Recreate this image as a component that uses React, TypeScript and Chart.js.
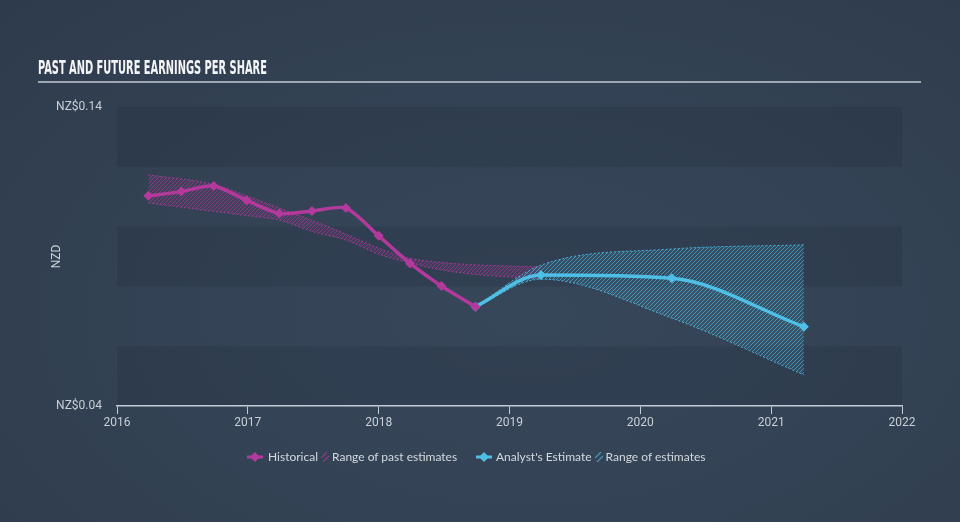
import React, { useEffect, useRef } from "react";
import { Chart, registerables } from "chart.js";

Chart.register(...registerables);

// ---- data ----
const histYears = [2016.24, 2016.49, 2016.74, 2016.99, 2017.24, 2017.49, 2017.75, 2018.0, 2018.24, 2018.48, 2018.74];
const histEPS = [0.1103, 0.1117, 0.1136, 0.1088, 0.1044, 0.1052, 0.1062, 0.0969, 0.0877, 0.0801, 0.0732];

const pastRangeYears = [2016.24, 2016.74, 2016.99, 2017.24, 2017.49, 2017.75, 2018.0, 2018.24, 2018.48, 2018.74, 2019.24];
const pastHigh = [0.1173, 0.1141, 0.1103, 0.1062, 0.1021, 0.0975, 0.0928, 0.0894, 0.088, 0.0872, 0.0865];
const pastLow = [0.1079, 0.1051, 0.1037, 0.1022, 0.0984, 0.0955, 0.0908, 0.0878, 0.0855, 0.084, 0.0826];

const estYears = [2018.74, 2019.24, 2020.24, 2021.25];
const estEPS = [0.0732, 0.0838, 0.0827, 0.0665];
const estHigh = [0.0732, 0.0871, 0.0925, 0.0939];
const estLow = [0.0732, 0.0824, 0.0694, 0.0504];

const xTicks = [2016, 2017, 2018, 2019, 2020, 2021, 2022];
const yTicks = [0.04, 0.14];
const bandEdges = [0.04, 0.06, 0.08, 0.1, 0.12, 0.14];

const TITLE = "PAST AND FUTURE EARNINGS PER SHARE";
const Y_TITLE = "NZD";
const LEGEND = ["Historical", "Range of past estimates", "Analyst's Estimate", "Range of estimates"];

const MAGENTA = "#b3399c";
const BLUE = "#4fbfe6";
const TEXT = "#c9cfd5";
const AXIS = "#c3ccd6";

const pts = (xs: number[], ys: number[]) => xs.map((x, i) => ({ x, y: ys[i] }));

function makeHatch(ctx: CanvasRenderingContext2D, rgb: string) {
  const c = document.createElement("canvas");
  c.width = 4;
  c.height = 4;
  const g = c.getContext("2d")!;
  g.fillStyle = `rgba(${rgb},0.12)`;
  g.fillRect(0, 0, 4, 4);
  g.strokeStyle = `rgba(${rgb},0.6)`;
  g.lineWidth = 1;
  g.beginPath();
  g.moveTo(0, 4);
  g.lineTo(4, 0);
  g.moveTo(-1, 1);
  g.lineTo(1, -1);
  g.moveTo(3, 5);
  g.lineTo(5, 3);
  g.stroke();
  return ctx.createPattern(c, "repeat")!;
}

const bandsPlugin = {
  id: "bands",
  beforeDraw(chart: any) {
    const { ctx, chartArea, scales } = chart;
    const y = scales.y;
    ctx.save();
    ctx.fillStyle = "rgba(24,34,48,0.16)";
    for (let i = 0; i < bandEdges.length - 1; i += 2) {
      const top = y.getPixelForValue(bandEdges[i + 1]);
      const bot = y.getPixelForValue(bandEdges[i]);
      ctx.fillRect(chartArea.left, top, chartArea.right - chartArea.left, bot - top);
    }
    ctx.restore();
  },
};

function DiamondIcon({ color }: { color: string }) {
  return (
    <svg width="16" height="12" style={{ display: "block" }}>
      <line x1="0" y1="6" x2="16" y2="6" stroke={color} strokeWidth="3" />
      <polygon points="8,1 13,6 8,11 3,6" fill={color} />
    </svg>
  );
}

function HatchIcon({ color }: { color: string }) {
  return (
    <svg width="8" height="10" style={{ display: "block" }}>
      <line x1="0" y1="6" x2="6" y2="0" stroke={color} strokeWidth="1.2" opacity="0.7" />
      <line x1="2" y1="10" x2="8" y2="4" stroke={color} strokeWidth="1.2" opacity="0.7" />
    </svg>
  );
}

export default function App() {
  const canvasRef = useRef<HTMLCanvasElement>(null);
  const titleRef = useRef<HTMLSpanElement>(null);

  useEffect(() => {
    const t = titleRef.current;
    if (t) {
      const w = t.offsetWidth;
      if (w > 0) t.style.transform = `scaleX(${229 / w})`;
    }
    const canvas = canvasRef.current!;
    const ctx = canvas.getContext("2d")!;
    const magHatch = makeHatch(ctx, "179,57,156");
    const blueHatch = makeHatch(ctx, "79,191,230");

    const chart = new Chart(ctx, {
      type: "line",
      data: {
        datasets: [
          {
            label: LEGEND[0],
            data: pts(histYears, histEPS),
            borderColor: MAGENTA,
            backgroundColor: MAGENTA,
            borderWidth: 3.5,
            pointStyle: "rectRot",
            pointRadius: 5,
            pointBorderWidth: 0,
            tension: 0.25,
            fill: false,
            order: 0,
          },
          {
            label: LEGEND[2],
            data: pts(estYears, estEPS),
            borderColor: BLUE,
            backgroundColor: BLUE,
            borderWidth: 3.5,
            pointStyle: "rectRot",
            pointRadius: 5,
            pointBorderWidth: 0,
            cubicInterpolationMode: "monotone",
            fill: false,
            order: 0,
          },
          {
            label: "pastHigh",
            data: pts(pastRangeYears, pastHigh),
            borderColor: "rgba(179,57,156,0.85)",
            borderWidth: 1,
            borderDash: [2, 2],
            pointRadius: 0,
            cubicInterpolationMode: "monotone",
            fill: false,
            order: 2,
          },
          {
            label: LEGEND[1],
            data: pts(pastRangeYears, pastLow),
            borderColor: "rgba(179,57,156,0.85)",
            backgroundColor: magHatch,
            borderWidth: 1,
            borderDash: [2, 2],
            pointRadius: 0,
            cubicInterpolationMode: "monotone",
            fill: 2,
            order: 2,
          },
          {
            label: "estHigh",
            data: pts(estYears, estHigh),
            borderColor: "rgba(79,191,230,0.85)",
            borderWidth: 1,
            borderDash: [2, 2],
            pointRadius: 0,
            cubicInterpolationMode: "monotone",
            fill: false,
            order: 1,
          },
          {
            label: LEGEND[3],
            data: pts(estYears, estLow),
            borderColor: "rgba(79,191,230,0.85)",
            backgroundColor: blueHatch,
            borderWidth: 1,
            borderDash: [2, 2],
            pointRadius: 0,
            cubicInterpolationMode: "monotone",
            fill: 4,
            order: 1,
          },
        ],
      },
      options: {
        responsive: false,
        animation: false,
        devicePixelRatio: 1,
        layout: { padding: { top: 107, right: 58, left: 0, bottom: 0 } },
        plugins: { legend: { display: false }, title: { display: false }, tooltip: { enabled: false } },
        scales: {
          x: {
            type: "linear",
            min: 2016,
            max: 2022,
            afterBuildTicks: (s: any) => {
              s.ticks = xTicks.map((v) => ({ value: v }));
            },
            afterFit: (s: any) => {
              s.height = 116;
            },
            grid: { drawOnChartArea: false, drawTicks: true, tickLength: 8, color: AXIS, lineWidth: 1 },
            border: { display: true, color: AXIS, width: 1.5 },
            ticks: {
              padding: 2,
              color: TEXT,
              maxRotation: 0,
              font: { family: "Roboto, 'DejaVu Sans', sans-serif", size: 12 },
              callback: (v: any) => String(v),
            },
          },
          y: {
            type: "linear",
            min: 0.04,
            max: 0.14,
            afterBuildTicks: (s: any) => {
              s.ticks = yTicks.map((v) => ({ value: v }));
            },
            afterFit: (s: any) => {
              s.width = 117;
            },
            grid: { display: false, drawTicks: false },
            border: { display: false },
            ticks: {
              padding: 15,
              color: TEXT,
              font: { family: "Roboto, 'DejaVu Sans', sans-serif", size: 12 },
              callback: (v: any) => "NZ$" + Number(v).toFixed(2),
            },
            title: {
              display: true,
              text: Y_TITLE,
              color: TEXT,
              font: { family: "Roboto, 'DejaVu Sans', sans-serif", size: 12 },
              padding: { top: 50, bottom: 0 },
            },
          },
        },
      },
      plugins: [bandsPlugin],
    } as any);
    return () => chart.destroy();
  }, []);

  const legendText: React.CSSProperties = {
    color: "#d4d9de",
    fontSize: 12,
    fontFamily: "Lato, 'Noto Sans', sans-serif",
    lineHeight: "14px",
    whiteSpace: "nowrap",
  };

  return (
    <div
      style={{
        position: "fixed",
        left: 0,
        top: 0,
        width: 960,
        height: 522,
        overflow: "hidden",
        background: "radial-gradient(ellipse at 55% 60%, #37475a 0%, #334254 50%, #2e3b4c 100%)",
      }}
    >
      <canvas ref={canvasRef} width={960} height={522} style={{ position: "absolute", left: 0, top: 0 }} />
      <div style={{ position: "absolute", left: 38, top: 56, height: 22, whiteSpace: "nowrap" }}>
        <span
          ref={titleRef}
          style={{
            display: "inline-block",
            transformOrigin: "left top",
            color: "#f4f5f7",
            fontFamily: "'Liberation Sans Narrow', 'DejaVu Sans Condensed', sans-serif",
            fontWeight: 700,
            fontSize: 19,
            lineHeight: "22px",
          }}
        >
          {TITLE}
        </span>
      </div>
      <div style={{ position: "absolute", left: 38, top: 81, width: 883, height: 2, background: "#9ea6af" }} />
      <div style={{ position: "absolute", left: 247, top: 450, display: "flex", alignItems: "center" }}>
        <DiamondIcon color={MAGENTA} />
        <span style={{ ...legendText, marginLeft: 5 }}>{LEGEND[0]}</span>
        <span style={{ marginLeft: 3 }}>
          <HatchIcon color={MAGENTA} />
        </span>
        <span style={{ ...legendText, marginLeft: 3 }}>{LEGEND[1]}</span>
      </div>
      <div style={{ position: "absolute", left: 476, top: 450, display: "flex", alignItems: "center" }}>
        <DiamondIcon color={BLUE} />
        <span style={{ ...legendText, marginLeft: 4 }}>{LEGEND[2]}</span>
        <span style={{ marginLeft: 3 }}>
          <HatchIcon color={BLUE} />
        </span>
        <span style={{ ...legendText, marginLeft: 3 }}>{LEGEND[3]}</span>
      </div>
    </div>
  );
}
